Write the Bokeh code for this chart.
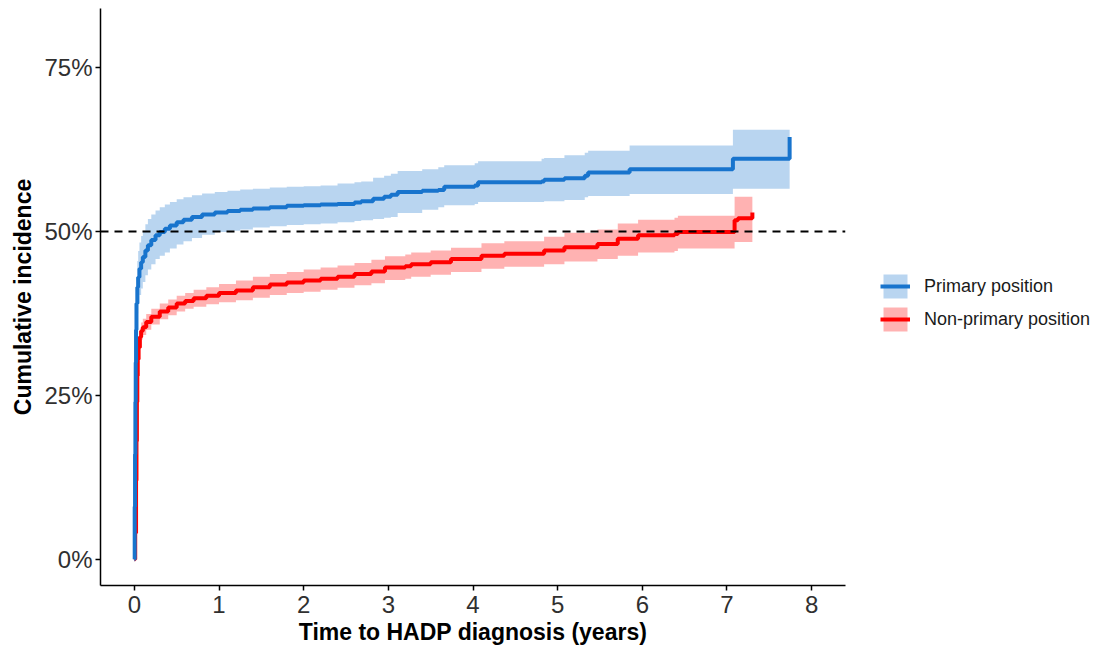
from bokeh.plotting import figure
from bokeh.models import Range1d, FixedTicker, PrintfTickFormatter, Span, Legend, LegendItem
from bokeh.embed import file_html
from bokeh.resources import INLINE

# ---- data ----
groups = ["Primary position", "Non-primary position"]

primary_time = [0, 0.004, 0.008, 0.012, 0.016, 0.02, 0.025, 0.035, 0.045, 0.06, 0.08, 0.1,
                0.13, 0.16, 0.2, 0.25, 0.3, 0.36, 0.42, 0.5, 0.58, 0.68, 0.8, 0.95, 1.1,
                1.25, 1.4, 1.6, 1.8, 2.0, 2.2, 2.4, 2.6, 2.68, 2.82, 2.95, 3.03, 3.11, 3.4,
                3.59, 3.66, 4.02, 4.06, 4.81, 4.84, 5.08, 5.32, 5.36, 5.85, 7.07, 7.74]
primary_est = [0, 8, 16, 24, 30, 35, 39, 41.5, 43, 44.3, 45.3, 46.1,
               47.1, 47.9, 48.7, 49.4, 49.9, 50.4, 50.9, 51.4, 51.8, 52.2, 52.6, 52.9, 53.1,
               53.3, 53.5, 53.7, 53.9, 54.0, 54.1, 54.2, 54.4, 54.6, 55.0, 55.3, 55.6, 56.0, 56.2,
               56.3, 56.8, 57.0, 57.5, 57.6, 57.9, 58.1, 58.5, 59.0, 59.5, 61.1, 64.4]
primary_lower = [0, 6, 13, 21, 27, 31.5, 35, 37.5, 39, 40.3, 41.3, 42.3,
                 43.3, 44.2, 45.0, 45.8, 46.3, 46.8, 47.4, 48.0, 48.5, 49.0, 49.5, 49.9, 50.1,
                 50.3, 50.6, 50.8, 51.0, 51.1, 51.2, 51.4, 51.6, 51.7, 51.9, 52.1, 52.2, 52.8, 53.3,
                 53.7, 54.0, 54.2, 54.5, 54.5, 54.6, 54.8, 55.2, 55.4, 55.7, 56.5, 56.5]
primary_upper = [0, 10, 19, 27, 33, 38.5, 43, 45.5, 47, 48.3, 49.3, 50.1,
                 51.1, 51.9, 52.6, 53.2, 53.7, 54.1, 54.5, 54.9, 55.2, 55.5, 55.8, 56.0, 56.2,
                 56.4, 56.5, 56.7, 56.8, 56.9, 57.0, 57.3, 57.5, 57.6, 58.2, 58.5, 58.8, 59.2, 59.5,
                 59.8, 60.1, 60.4, 60.7, 61.1, 61.2, 61.6, 62.0, 62.3, 63.1, 65.5, 65.5]

nonprimary_time = [0, 0.01, 0.02, 0.025, 0.03, 0.035, 0.04, 0.05, 0.065, 0.08, 0.1, 0.14,
                   0.2, 0.3, 0.4, 0.5, 0.6, 0.7, 0.85, 1.0, 1.2, 1.4, 1.6, 1.8, 2.0, 2.2,
                   2.4, 2.6, 2.8, 2.96, 3.2, 3.27, 3.5, 3.74, 4.1, 4.37, 4.84, 5.08, 5.47,
                   5.71, 5.95, 6.38, 6.42, 7.09, 7.13, 7.30]
nonprimary_est = [0, 4, 12, 18, 24, 28, 30.5, 32.3, 33.9, 34.8, 35.4, 36.2,
                  37.0, 37.8, 38.4, 39.0, 39.4, 39.8, 40.2, 40.6, 41.0, 41.5, 41.9, 42.2, 42.5, 42.8,
                  43.1, 43.5, 43.9, 44.5, 44.7, 45.0, 45.3, 45.8, 46.3, 46.6, 47.1, 47.6, 48.1,
                  48.9, 49.4, 49.6, 49.9, 51.7, 52.0, 52.9]
nonprimary_lower = [0, 3, 10.5, 16.5, 22.5, 26.5, 29, 30.9, 32.6, 33.5, 34.2, 35.0,
                    35.8, 36.6, 37.2, 37.8, 38.2, 38.5, 38.9, 39.2, 39.5, 39.9, 40.3, 40.6, 40.8, 41.1,
                    41.4, 41.8, 42.1, 42.6, 42.8, 43.1, 43.4, 43.8, 44.3, 44.6, 45.0, 45.4, 45.8,
                    46.3, 46.8, 47.0, 47.4, 48.4, 48.4, 48.4]
nonprimary_upper = [0, 5, 13.5, 19.5, 25.5, 29.5, 32, 33.7, 35.2, 36.1, 36.7, 37.4,
                    38.2, 39.0, 39.6, 40.2, 40.6, 41.1, 41.5, 42.0, 42.5, 43.1, 43.5, 43.8, 44.2, 44.5,
                    44.8, 45.2, 45.7, 46.2, 46.5, 46.8, 47.1, 47.5, 48.2, 48.5, 49.2, 49.8, 50.3,
                    51.2, 51.8, 52.1, 52.4, 55.3, 55.3, 55.3]

y_ticks = [0, 25, 50, 75]
x_ticks = [0, 1, 2, 3, 4, 5, 6, 7, 8]
reference_level = 50

# ---- styling ----
BLUE = "#1874CD"
RED = "#FF0000"
FONT = "Liberation Sans"

p = figure(frame_width=745, frame_height=577,
           x_range=Range1d(-0.4, 8.4), y_range=Range1d(-4, 84),
           output_backend="svg", toolbar_location=None,
           min_border_left=100, min_border_top=8, min_border_bottom=40,
           min_border_right=250)
p.background_fill_color = "white"
p.border_fill_color = "white"
p.outline_line_color = None
p.xgrid.visible = False
p.ygrid.visible = False

band_np = p.varea_step(x=nonprimary_time, y1=nonprimary_lower, y2=nonprimary_upper,
                       step_mode="after", fill_color=RED, fill_alpha=0.3)
band_p = p.varea_step(x=primary_time, y1=primary_lower, y2=primary_upper,
                      step_mode="after", fill_color=BLUE, fill_alpha=0.3)
line_np = p.step(x=nonprimary_time, y=nonprimary_est, mode="after",
                 line_color=RED, line_width=4)
line_p = p.step(x=primary_time, y=primary_est, mode="after",
                line_color=BLUE, line_width=4)

p.add_layout(Span(location=reference_level, dimension="width", line_color="black",
                  line_width=2, line_dash="8 6"))

for ax in (p.xaxis[0], p.yaxis[0]):
    ax.axis_line_color = "black"
    ax.axis_line_width = 1.5
    ax.major_tick_line_color = "black"
    ax.major_tick_line_width = 1.5
    ax.major_tick_out = 5
    ax.major_tick_in = 0
    ax.minor_tick_line_color = None
    ax.major_label_text_font = FONT
    ax.major_label_text_font_size = "24px"
    ax.major_label_text_color = "#303030"
    ax.axis_label_text_font = FONT
    ax.axis_label_text_font_size = "23px"
    ax.axis_label_text_font_style = "bold"
    ax.axis_label_text_color = "black"

p.xaxis[0].ticker = FixedTicker(ticks=x_ticks)
p.xaxis[0].axis_label = "Time to HADP diagnosis (years)"
p.xaxis[0].major_label_standoff = 5
p.xaxis[0].axis_label_standoff = 3
p.yaxis[0].ticker = FixedTicker(ticks=y_ticks)
p.yaxis[0].formatter = PrintfTickFormatter(format="%d%%")
p.yaxis[0].axis_label = "Cumulative incidence"
p.yaxis[0].major_label_standoff = 3
p.yaxis[0].axis_label_standoff = 5

legend = Legend(items=[LegendItem(label=groups[0], renderers=[band_p, line_p]),
                       LegendItem(label=groups[1], renderers=[band_np, line_np])],
                location=(35, 251), orientation="vertical")
legend.margin = 0
legend.padding = 0
legend.spacing = 3
legend.glyph_width = 30
legend.glyph_height = 30
legend.label_standoff = 14
legend.label_text_font = FONT
legend.label_text_font_size = "18px"
legend.label_text_color = "#1a1a1a"
legend.border_line_color = None
legend.background_fill_alpha = 0
p.add_layout(legend, "right")

open("out.html", "w").write(file_html(p, INLINE))
